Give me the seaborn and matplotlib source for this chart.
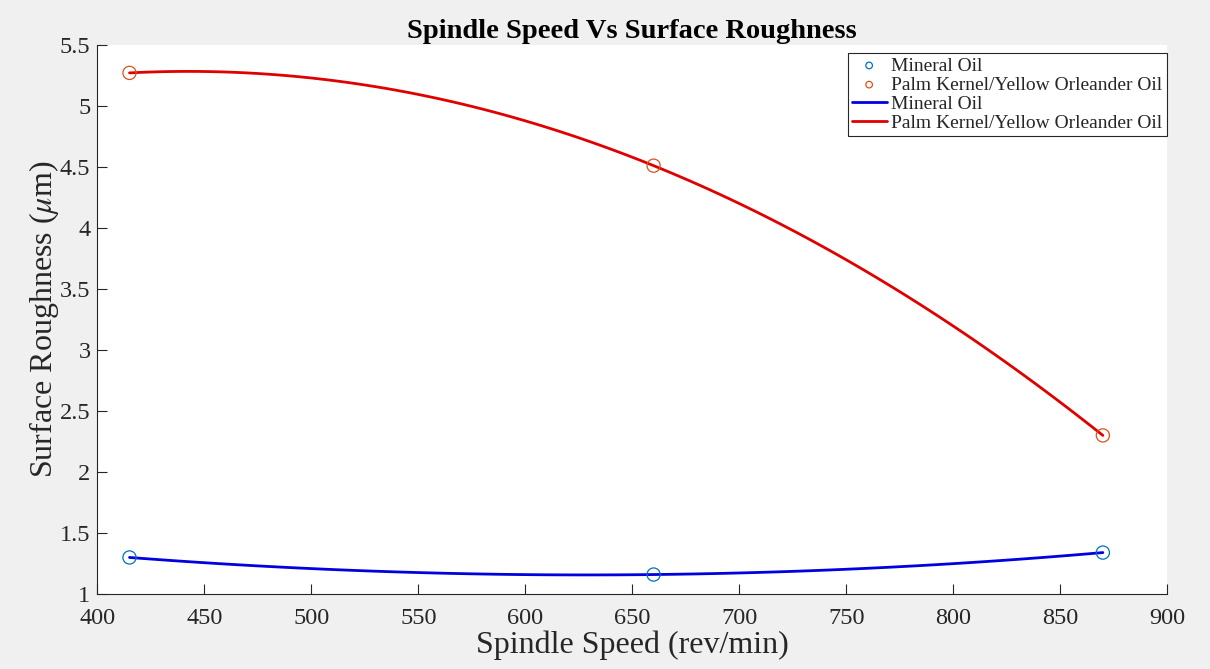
import matplotlib
matplotlib.use("Agg")
import matplotlib.pyplot as plt
import seaborn as sns
import numpy as np
import pandas as pd

speed = [415, 660, 870]
mineral = [1.30, 1.16, 1.34]
palm = [5.27, 4.51, 2.30]
labels = ["Mineral Oil", "Palm Kernel/Yellow Orleander Oil"]
x_ticks = [400, 450, 500, 550, 600, 650, 700, 750, 800, 850, 900]
y_ticks = [1, 1.5, 2, 2.5, 3, 3.5, 4, 4.5, 5, 5.5]

sns.set_style("white")
plt.rcParams['font.family'] = ['Liberation Serif', 'DejaVu Serif']
plt.rcParams['mathtext.fontset'] = 'stix'

fig = plt.figure(figsize=(12.1, 6.69), dpi=100, facecolor='#f0f0f0')
ax = fig.add_axes([0.0805, 0.112, 0.884, 0.821])
ax.set_facecolor('white')

df = pd.DataFrame({"speed": speed, "mineral": mineral, "palm": palm})

ax.scatter(df["speed"], df["mineral"], s=90, facecolors='none', edgecolors='#0072BD',
           linewidths=0.9, label=labels[0], zorder=3)
ax.scatter(df["speed"], df["palm"], s=90, facecolors='none', edgecolors='#D95319',
           linewidths=0.9, label=labels[1], zorder=3)

sns.regplot(data=df, x="speed", y="mineral", order=2, ci=None, scatter=False, ax=ax,
            label=labels[0], line_kws=dict(color='#0000e0', lw=2))
sns.regplot(data=df, x="speed", y="palm", order=2, ci=None, scatter=False, ax=ax,
            label=labels[1], line_kws=dict(color='#e00000', lw=2))

ax.set_xlim(400, 900)
ax.set_ylim(1, 5.5)
ax.set_xticks(x_ticks)
ax.set_yticks(y_ticks)
ax.set_yticklabels([f"{v:g}" for v in y_ticks])
ax.tick_params(direction='in', length=7, width=0.8, labelsize=17.5, colors='#262626',
               bottom=True, left=True)
ax.tick_params(axis='x', pad=10)
ax.tick_params(axis='y', pad=5)
for s in ['top', 'right']:
    ax.spines[s].set_visible(False)
for s in ['left', 'bottom']:
    ax.spines[s].set_color('#262626')
    ax.spines[s].set_linewidth(0.8)

ax.set_xlabel("Spindle Speed (rev/min)", fontsize=23, color='#262626', labelpad=1)
ax.set_ylabel(r"Surface Roughness ($\mu$m)", fontsize=23, color='#262626', labelpad=-1)
ax.set_title("Spindle Speed Vs Surface Roughness", fontsize=20.5, fontweight='bold',
             color='black', pad=5)

handles, labs = ax.get_legend_handles_labels()
leg = ax.legend(handles, labs, loc='upper right', fontsize=14, frameon=True,
                fancybox=False, edgecolor='#262626', framealpha=1,
                borderpad=0.2, labelspacing=0.08, handlelength=1.8, handletextpad=0.25,
                markerscale=0.5, borderaxespad=0.0, bbox_to_anchor=(0.9995, 0.985))
leg.get_frame().set_linewidth(0.8)

fig.savefig("out.png", dpi=100, facecolor=fig.get_facecolor())
